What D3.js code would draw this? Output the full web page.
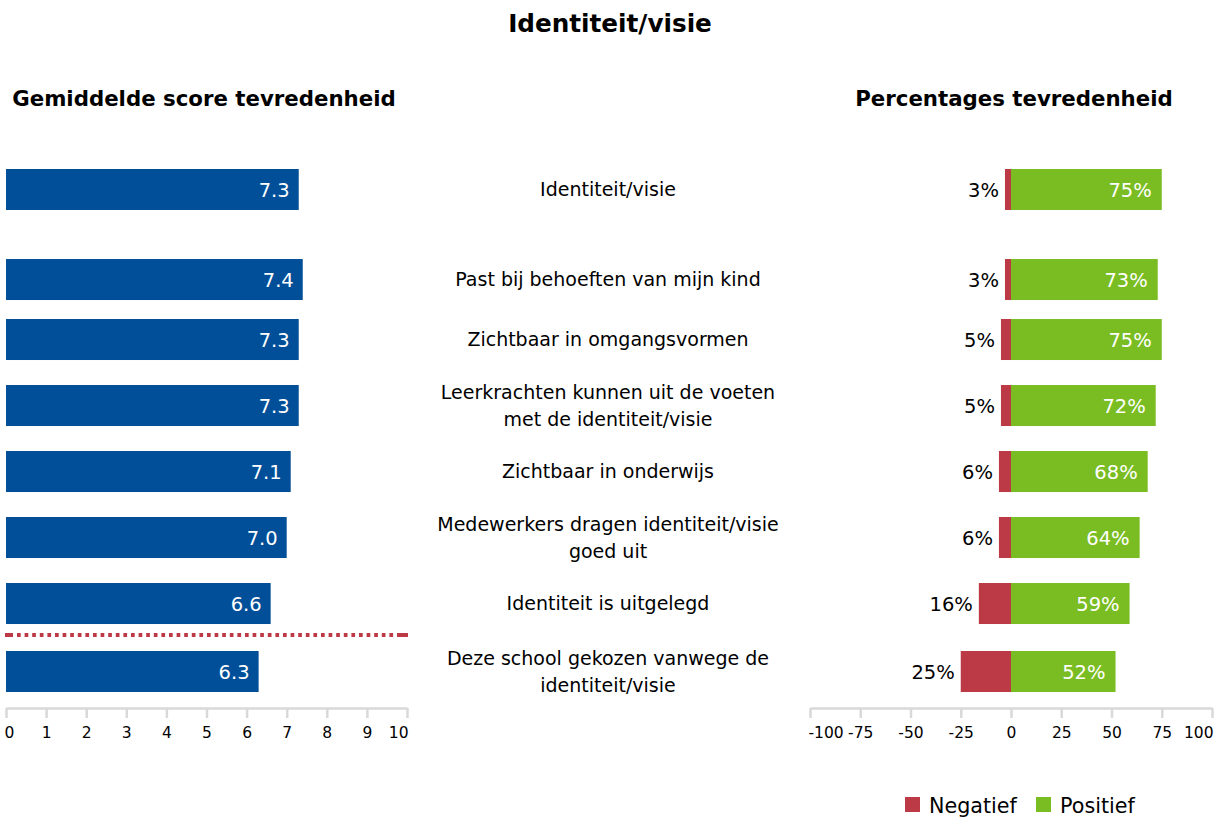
<!DOCTYPE html>
<html>
<head>
<meta charset="utf-8">
<script src="https://cdn.jsdelivr.net/npm/d3@7"></script>
<style>
  html, body { margin: 0; padding: 0; background: #fff; }
  svg { display: block; font-family: "DejaVu Sans", Verdana, sans-serif; }
</style>
</head>
<body>
<svg id="chart" width="1226" height="820"></svg>
<script>
// ---- data ----
const categories = [
  ["Identiteit/visie"],
  ["Past bij behoeften van mijn kind"],
  ["Zichtbaar in omgangsvormen"],
  ["Leerkrachten kunnen uit de voeten", "met de identiteit/visie"],
  ["Zichtbaar in onderwijs"],
  ["Medewerkers dragen identiteit/visie", "goed uit"],
  ["Identiteit is uitgelegd"],
  ["Deze school gekozen vanwege de", "identiteit/visie"]
];
const scores = [7.3, 7.4, 7.3, 7.3, 7.1, 7.0, 6.6, 6.3];
const negatief = [3, 3, 5, 5, 6, 6, 16, 25];
const positief = [75, 73, 75, 72, 68, 64, 59, 52];
const scoreTicks = [0, 1, 2, 3, 4, 5, 6, 7, 8, 9, 10];
const pctTicks = [-100, -75, -50, -25, 0, 25, 50, 75, 100];
const legendItems = ["Negatief", "Positief"];
const titleText = "Identiteit/visie";
const leftTitle = "Gemiddelde score tevredenheid";
const rightTitle = "Percentages tevredenheid";

// ---- layout (row slots in row-units; separator slot) ----
const rowSlots = [0, 1.364, 2.273, 3.273, 4.273, 5.273, 6.273, 7.303];
const separatorSlot = 6.75;

const colors = { blue: "#004f98", red: "#bc3a45", green: "#7abd22", axis: "#d9d9d9" };

const svg = d3.select("#chart");
const xL = d3.scaleLinear().domain([0, 10]).range([6, 407]);
const xR = d3.scaleLinear().domain([-100, 100]).range([810, 1212]);
const yRow = d3.scaleLinear().domain([0, 1]).range([189.5, 255.5]);
const barH = 41;
const fs = 19;

// titles
svg.append("text").attr("x", 610).attr("y", 32).attr("text-anchor", "middle")
  .attr("font-weight", "bold").attr("font-size", 24.7).attr("fill", "#000").text(titleText);
svg.append("text").attr("x", 204).attr("y", 106).attr("text-anchor", "middle")
  .attr("font-weight", "bold").attr("font-size", 21.3).attr("fill", "#000").text(leftTitle);
svg.append("text").attr("x", 1014).attr("y", 106).attr("text-anchor", "middle")
  .attr("font-weight", "bold").attr("font-size", 21.3).attr("fill", "#000").text(rightTitle);

const rows = scores.map((s, i) => ({ s, neg: negatief[i], pos: positief[i], cat: categories[i], slot: rowSlots[i] }));

// left bars
const gL = svg.append("g");
gL.selectAll("rect").data(rows).join("rect")
  .attr("x", xL(0)).attr("y", d => yRow(d.slot) - barH / 2)
  .attr("width", d => xL(d.s) - xL(0)).attr("height", barH)
  .attr("fill", colors.blue);
gL.selectAll("text").data(rows).join("text")
  .attr("x", d => xL(d.s) - 9).attr("y", d => yRow(d.slot))
  .attr("dy", "0.36em").attr("text-anchor", "end")
  .attr("font-size", fs + 0.5).attr("fill", "#fff")
  .text(d => d.s.toFixed(1));

// separator
const ySep = yRow(separatorSlot);
svg.append("line").attr("x1", xL(0) + 8).attr("x2", xL(10) - 7)
  .attr("y1", ySep).attr("y2", ySep)
  .attr("stroke", colors.red).attr("stroke-width", 4)
  .attr("stroke-dasharray", "3.7,3.9").attr("stroke-dashoffset", -3);
svg.append("rect").attr("x", xL(0) - 1).attr("y", ySep - 2).attr("width", 8).attr("height", 4).attr("fill", colors.red);
svg.append("rect").attr("x", xL(10) - 7).attr("y", ySep - 2).attr("width", 8).attr("height", 4).attr("fill", colors.red);

// category labels
const gC = svg.append("g");
rows.forEach(d => {
  const n = d.cat.length;
  const lh = 27;
  const t = gC.append("text").attr("text-anchor", "middle").attr("font-size", fs).attr("fill", "#000");
  d.cat.forEach((line, j) => {
    t.append("tspan").attr("x", 608)
      .attr("y", yRow(d.slot) + (j - (n - 1) / 2) * lh)
      .attr("dy", "0.36em").text(line);
  });
});

// right bars
const gR = svg.append("g");
gR.selectAll("rect.neg").data(rows).join("rect").attr("class", "neg")
  .attr("x", d => xR(-d.neg)).attr("y", d => yRow(d.slot) - barH / 2)
  .attr("width", d => xR(0) - xR(-d.neg)).attr("height", barH)
  .attr("fill", colors.red);
gR.selectAll("rect.pos").data(rows).join("rect").attr("class", "pos")
  .attr("x", xR(0)).attr("y", d => yRow(d.slot) - barH / 2)
  .attr("width", d => xR(d.pos) - xR(0)).attr("height", barH)
  .attr("fill", colors.green);
gR.selectAll("text.neg").data(rows).join("text").attr("class", "neg")
  .attr("x", d => xR(-d.neg) - 6).attr("y", d => yRow(d.slot))
  .attr("dy", "0.36em").attr("text-anchor", "end")
  .attr("font-size", fs + 0.5).attr("fill", "#000").text(d => d.neg + "%");
gR.selectAll("text.pos").data(rows).join("text").attr("class", "pos")
  .attr("x", d => xR(d.pos) - 10).attr("y", d => yRow(d.slot))
  .attr("dy", "0.36em").attr("text-anchor", "end")
  .attr("font-size", fs + 0.5).attr("fill", "#fff").text(d => d.pos + "%");

// axes
function drawAxis(scale, ticks, yAxis) {
  const g = svg.append("g").attr("transform", `translate(0,${yAxis})`);
  const ax = d3.axisBottom(scale).tickValues(ticks).tickSize(10).tickSizeOuter(0).tickPadding(9)
    .tickFormat(d => String(d));
  g.call(ax);
  g.attr("font-size", 15.5).attr("font-family", "DejaVu Sans, Verdana, sans-serif");
  g.select(".domain").attr("stroke", colors.axis).attr("stroke-width", 2.5);
  g.selectAll(".tick line").attr("stroke", colors.axis).attr("stroke-width", 2.5);
  const txt = g.selectAll(".tick text").attr("fill", "#000");
  txt.filter((d, i) => i === 0).attr("text-anchor", "start").attr("dx", -2);
  txt.filter((d, i) => i === ticks.length - 1).attr("text-anchor", "end").attr("dx", 1);
  return g;
}
drawAxis(xL, scoreTicks, 708);
drawAxis(xR, pctTicks, 708);

// legend
const legendX = [905, 1036];
const gLeg = svg.append("g");
legendItems.forEach((name, i) => {
  gLeg.append("rect").attr("x", legendX[i]).attr("y", 797).attr("width", 15).attr("height", 15)
    .attr("fill", i === 0 ? colors.red : colors.green);
  gLeg.append("text").attr("x", legendX[i] + 24).attr("y", 813)
    .attr("font-size", 20.7).attr("fill", "#000").text(name);
});
</script>
</body>
</html>
